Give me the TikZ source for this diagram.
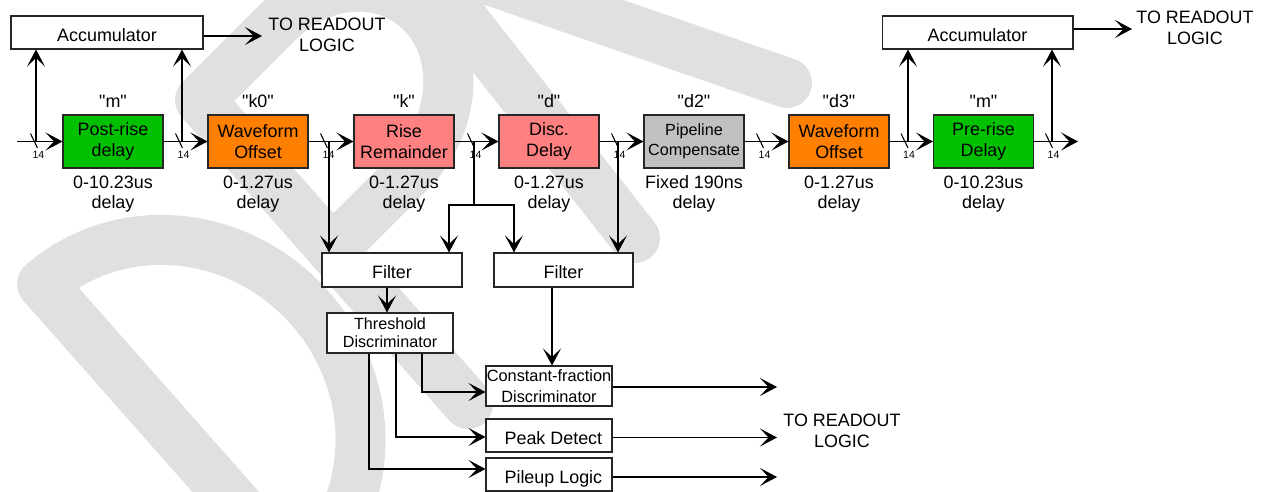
\documentclass[tikz,border=0pt]{standalone}
\usepackage{fontspec}
\setmainfont{Liberation Sans}[Ligatures=TeXOff]
\usetikzlibrary{arrows.meta}
\definecolor{cgreen}{RGB}{0,192,0}
\definecolor{corange}{RGB}{255,128,0}
\definecolor{cpink}{RGB}{255,128,128}
\definecolor{cgray}{RGB}{192,192,192}
\definecolor{wmgray}{RGB}{224,224,224}
\begin{document}
\begin{tikzpicture}[x=0.02cm,y=-0.02cm,
  every node/.style={font=\fontsize{10.2}{11.8}\selectfont, inner sep=0pt, align=center},
  blk/.style={draw=black!85, line width=0.6pt, minimum width=2cm, minimum height=1.06cm},
  wbox/.style={draw=black!85, line width=0.6pt, fill=white},
  oneline/.style={text height=1.0em, text depth=0pt},
  small/.style={font=\fontsize{6}{7}\selectfont},
  mid/.style={font=\fontsize{9.2}{10.4}\selectfont},
  wire/.style={line width=0.6pt},
  wm/.style={draw=wmgray, line width=1cm, line join=round, line cap=round},
  arr/.style={line width=0.6pt, -{Stealth[length=0.34cm,width=0.36cm,inset=0.17cm]}},
]
\useasboundingbox (0,0) rectangle (1265,492);

% watermark (partial "DRA")
\begin{scope}
\clip (0,0) rectangle (1265,492);
\draw[wm] (300,576) -- (42,284) -- plot[domain=90:-90, samples=40, variable=\t]
  ({171 + 139*cos(\t) - 129*sin(\t)}, {430 - 122*cos(\t) - 146*sin(\t)});
\draw[wm] (468,404) -- (200,100) -- (278,22) -- plot[domain=90:-90, samples=30, variable=\t]
  ({344 + 81*cos(\t) - 66*sin(\t)}, {97 - 81*cos(\t) - 75*sin(\t)}) -- (332,250);
\draw[wm] (635,238) -- (411,-47) -- (787,83);
\end{scope}

% main chain
\node[blk, fill=cgreen]  (b1) at (113,141.5) {Post-rise\\delay};
\node[blk, fill=corange] (b2) at (258,141.5) {Waveform\\Offset};
\node[blk, fill=cpink]   (b3) at (404,141.5) {Rise\\Remainder};
\node[blk, fill=cpink]   (b4) at (549,141.5) {Disc.\\Delay};
\node[blk, fill=cgray, font=\fontsize{9.2}{11.2}\selectfont] (b5) at (694,141.5) {Pipeline\\Compensate};
\node[blk, fill=corange] (b6) at (839,141.5) {Waveform\\Offset};
\node[blk, fill=cgreen]  (b7) at (983.5,141.5) {Pre-rise\\Delay};

% labels above
\node (q1) at (113,101) {"m"};
\node (q2) at (258,101) {"k0"};
\node (q3) at (404,101) {"k"};
\node (q4) at (549,101) {"d"};
\node (q5) at (694,101) {"d2"};
\node (q6) at (839,101) {"d3"};
\node (q7) at (983.5,101) {"m"};

% labels below
\node (u1) at (113,194) {0-10.23us\\delay};
\node (u2) at (258,194) {0-1.27us\\delay};
\node (u3) at (404,194) {0-1.27us\\delay};
\node (u4) at (549,194) {0-1.27us\\delay};
\node (u5) at (694,194) {Fixed 190ns\\delay};
\node (u6) at (839,194) {0-1.27us\\delay};
\node (u7) at (983.5,194) {0-10.23us\\delay};

% accumulators
\node[wbox, oneline, minimum width=3.84cm, minimum height=0.66cm] (acc1) at (107,32.5) {Accumulator};
\node[wbox, oneline, minimum width=3.82cm, minimum height=0.66cm] (acc2) at (977.5,32.5) {Accumulator};
\node (ro1t) at (327,35) {TO READOUT\\LOGIC};
\node (ro2t) at (1195,28) {TO READOUT\\LOGIC};
\coordinate (ro1) at (262,36);
\coordinate (ro2) at (1132,29);
\draw[arr] (acc1.east |- ro1) -- (ro1);
\draw[arr] (acc2.east |- ro2) -- (ro2);

% chain wires
\coordinate (in) at (17,141.5);
\coordinate (out) at (1078,141.5);
\draw[arr] (in) -- (b1.west);
\draw[arr] (b1.east) -- (b2.west);
\draw[arr] (b2.east) -- (b3.west);
\draw[arr] (b3.east) -- (b4.west);
\draw[arr] (b4.east) -- (b5.west);
\draw[arr] (b5.east) -- (b6.west);
\draw[arr] (b6.east) -- (b7.west);
\draw[arr] (b7.east) -- (out);

% bus marks
\foreach \sx/\nm in {34/a,179/b,324/c,471/d,615/e,760/f,904.5/g,1049/h}{
  \draw[wire] ({\sx-3.5},133.5) -- ({\sx+3.5},148);
  \node[small] (bw\nm) at ({\sx+4.5},154.5) {14};
}

% taps to accumulators
\coordinate (t1) at (36,141.5);
\coordinate (t2) at (182,141.5);
\coordinate (t3) at (908,141.5);
\coordinate (t4) at (1052,141.5);
\draw[arr] (t1) -- (t1 |- acc1.south);
\draw[arr] (t2) -- (t2 |- acc1.south);
\draw[arr] (t3) -- (t3 |- acc2.south);
\draw[arr] (t4) -- (t4 |- acc2.south);

% filters
\node[wbox, oneline, minimum width=2.8cm, minimum height=0.68cm] (f1) at (392,270) {Filter};
\node[wbox, oneline, minimum width=2.78cm, minimum height=0.68cm] (f2) at (563.5,270) {Filter};

\coordinate (v2) at (329,141.5);
\coordinate (v3) at (474,141.5);
\coordinate (v4) at (618,141.5);
\coordinate (brL) at (449,205);
\coordinate (brR) at (514,205);
\draw[arr] (v2) -- (v2 |- f1.north);
\draw[wire] (v3) -- (v3 |- brL);
\draw[arr] (v3 |- brL) -| (brL |- f1.north);
\draw[arr] (v3 |- brR) -| (brR |- f2.north);
\draw[arr] (v4) -- (v4 |- f2.north);

% discriminators
\node[wbox, mid, minimum width=2.52cm, minimum height=0.8cm] (th) at (390,333) {Threshold\\Discriminator};
\node[wbox, font=\fontsize{9.3}{11.6}\selectfont, minimum width=2.52cm, minimum height=0.8cm] (cfd) at (549,386) {Constant-fraction\\Discriminator};
\node[wbox, oneline, minimum width=2.52cm, minimum height=0.66cm] (pk) at (549,435.5) {\kern5pt Peak Detect};
\node[wbox, oneline, minimum width=2.52cm, minimum height=0.66cm] (pu) at (549,474.5) {\kern5pt Pileup Logic};

\coordinate (x1) at (387,0);
\coordinate (x2) at (552,0);
\draw[arr] (f1.south -| x1) -- (th.north -| x1);
\draw[arr] (f2.south -| x2) -- (cfd.north -| x2);

\coordinate (c1) at (422,392);
\coordinate (c2) at (396,437);
\coordinate (c3) at (369,469);
\draw[arr] (th.south -| c1) |- (cfd.west |- c1);
\draw[arr] (th.south -| c2) |- (pk.west |- c2);
\draw[arr] (th.south -| c3) |- (pu.west |- c3);

\coordinate (o1) at (777,387);
\coordinate (o2) at (777,437.5);
\coordinate (o3) at (777,477);
\draw[arr] (cfd.east |- o1) -- (o1);
\draw[arr] (pk.east |- o2) -- (o2);
\draw[arr] (pu.east |- o3) -- (o3);
\node (ro3t) at (842,430.5) {TO READOUT\\LOGIC};
\end{tikzpicture}
\end{document}
